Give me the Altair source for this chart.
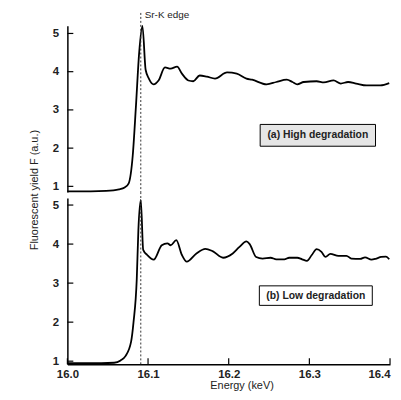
import altair as alt
import pandas as pd

# ---- data ----
a_energy = [16.000, 16.029, 16.048, 16.064, 16.071, 16.076, 16.081, 16.085, 16.089, 16.093,
            16.097, 16.101, 16.107, 16.113, 16.121, 16.128, 16.136, 16.142, 16.150, 16.156,
            16.164, 16.173, 16.183, 16.198, 16.210, 16.222, 16.229, 16.247, 16.259, 16.272,
            16.279, 16.285, 16.293, 16.309, 16.318, 16.330, 16.339, 16.348, 16.358, 16.371,
            16.388, 16.399]
a_yield = [0.87, 0.87, 0.88, 0.92, 0.97, 1.08, 1.8, 3.1, 4.5, 5.2,
           4.05, 3.82, 3.67, 3.77, 4.11, 4.08, 4.13, 3.95, 3.77, 3.75,
           3.9, 3.87, 3.82, 3.98, 3.95, 3.82, 3.79, 3.67, 3.73, 3.79,
           3.73, 3.67, 3.73, 3.75, 3.72, 3.77, 3.69, 3.73, 3.69, 3.64,
           3.64, 3.7]

b_energy = [16.000, 16.042, 16.058, 16.066, 16.072, 16.079, 16.082, 16.086, 16.088, 16.091,
            16.094, 16.099, 16.107, 16.117, 16.124, 16.128, 16.135, 16.142, 16.148, 16.160,
            16.171, 16.180, 16.193, 16.205, 16.213, 16.222, 16.226, 16.234, 16.242, 16.252,
            16.259, 16.269, 16.275, 16.285, 16.291, 16.297, 16.303, 16.309, 16.315, 16.320,
            16.326, 16.336, 16.346, 16.352, 16.363, 16.369, 16.377, 16.383, 16.389, 16.395,
            16.399]
b_yield = [0.95, 0.95, 0.96, 1.02, 1.13, 1.5, 2.0, 3.1, 4.35, 5.13,
           3.85, 3.72, 3.6, 3.97, 4.02, 3.97, 4.1, 3.72, 3.55, 3.76,
           3.88, 3.82, 3.65, 3.76, 3.92, 4.07, 4.0, 3.67, 3.63, 3.65,
           3.61, 3.61, 3.65, 3.65, 3.61, 3.57, 3.72, 3.87, 3.8, 3.67,
           3.75, 3.7, 3.7, 3.63, 3.62, 3.66, 3.6, 3.63, 3.67, 3.68,
           3.61]

x_ticks = [16.0, 16.1, 16.2, 16.3, 16.4]
y_ticks = [1, 2, 3, 4, 5]
edge_energy = [16.091]
edge_label = "Sr-K edge"
panel_labels = ["(a) High degradation", "(b) Low degradation"]
y_title = "Fluorescent yield  F (a.u.)"
x_title = "Energy   (keV)"

W, H = 326, 168
FONT = "Liberation Sans"
x_scale = alt.Scale(domain=[16.0, 16.4], nice=False, zero=False)


def panel(energy, yields, ydomain, label, box, fill, bottom):
    df = pd.DataFrame({"E": energy, "F": yields})
    ys = alt.Scale(domain=ydomain, nice=False, zero=False)
    if bottom:
        xaxis = alt.Axis(values=x_ticks, format=".1f", ticks=False, grid=False,
                         domainColor="black", domainWidth=1.5, labelFont=FONT,
                         labelFontSize=11.5, labelFontWeight="bold", labelColor="#222",
                         labelPadding=4, labelFlush=False,
                         labelAlign={"expr": "datum.value > 16.35 ? 'right' : 'center'"},
                         title=x_title, titleFont=FONT,
                         titleFontSize=11, titleFontWeight="normal", titleColor="#222",
                         titlePadding=0, titleX=176)
    else:
        xaxis = None
    yaxis = alt.Axis(values=y_ticks, ticks=False, grid=False, domainColor="black",
                     domainWidth=1.5, labelFont=FONT, labelFontSize=11.5,
                     labelFontWeight="bold", labelColor="#222", labelPadding=9,
                     title=None, labelFlush=False)

    def X(f):
        return alt.X(f, scale=x_scale, axis=xaxis)

    def Y(f):
        return alt.Y(f, scale=ys, axis=yaxis)

    line = alt.Chart(df).mark_line(color="black", strokeWidth=1.8,
                                   interpolate="monotone").encode(
        x=X("E:Q"), y=Y("F:Q"))
    yt = alt.Chart(pd.DataFrame({"v": y_ticks})).mark_rule(
        color="black", strokeWidth=1.2).encode(
        y=Y("v:Q"), x=alt.value(0), x2=alt.value(6))
    layers = [line, yt]
    if bottom:
        xt = alt.Chart(pd.DataFrame({"v": x_ticks})).mark_rule(
            color="black", strokeWidth=1.2).encode(
            x=X("v:Q"), y=alt.value(H), y2=alt.value(H - 6))
        layers.append(xt)
    edge = alt.Chart(pd.DataFrame({"E": edge_energy})).mark_rule(
        color="#333", strokeWidth=1, strokeDash=[2, 2]).encode(
        x=X("E:Q"), y=alt.value(-13 if not bottom else -6), y2=alt.value(H))
    layers.append(edge)
    bx = pd.DataFrame({"x1": [box[0]], "x2": [box[1]], "y1": [box[2]], "y2": [box[3]],
                       "t": [label]})
    rect = alt.Chart(bx).mark_rect(fill=fill, stroke="black", strokeWidth=1).encode(
        x=X("x1:Q"), x2="x2:Q", y=Y("y1:Q"), y2="y2:Q")
    txt = alt.Chart(bx).transform_calculate(
        xm="(datum.x1 + datum.x2) / 2", ym="(datum.y1 + datum.y2) / 2").mark_text(
        font=FONT, fontSize=10.5, fontWeight="bold", color="#222",
        align="center", baseline="middle").encode(
        x=X("xm:Q"), y=Y("ym:Q"), text="t:N")
    layers += [rect, txt]
    if not bottom:
        et = alt.Chart(pd.DataFrame({"E": edge_energy, "t": [edge_label]})).mark_text(
            font=FONT, fontSize=10, color="#222", align="left", baseline="middle",
            dx=4).encode(x=X("E:Q"), y=alt.value(-11), text="t:N")
        layers.append(et)
    else:
        tt = alt.Chart(pd.DataFrame({"t": [y_title]})).mark_text(
            font=FONT, fontSize=11, color="#222", angle=270, align="center",
            baseline="middle").encode(x=alt.value(-33), y=alt.value(-8), text="t:N")
        layers.append(tt)
    return alt.layer(*layers).properties(width=W, height=H)


top = panel(a_energy, a_yield, [0.85, 5.2], panel_labels[0],
            [16.239, 16.382, 2.62, 2.05], "#e6e6e6", False)
bot = panel(b_energy, b_yield, [0.92, 5.18], panel_labels[1],
            [16.238, 16.378, 2.93, 2.43], "white", True)

chart = alt.vconcat(top, bot, spacing=6, bounds="flush").configure_view(
    stroke=None).properties(padding={"left": 20, "top": 0, "right": 0, "bottom": 0})

chart.save("out.html", embed_options={"renderer": "svg", "actions": False})
